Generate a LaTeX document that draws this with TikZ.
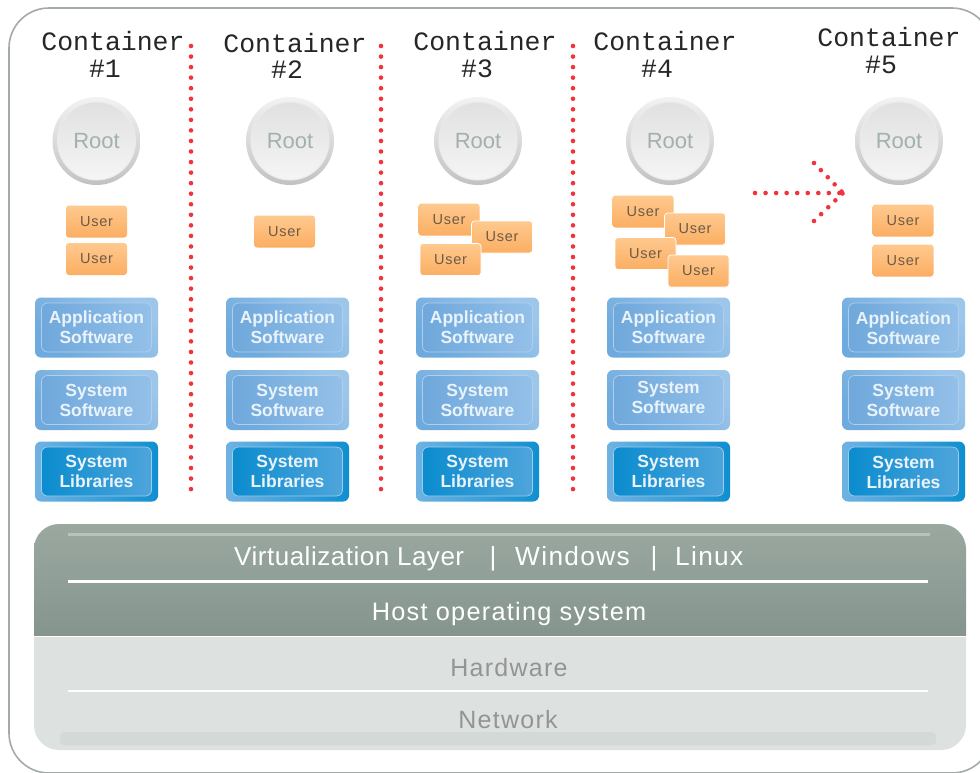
\documentclass[tikz,border=0pt]{standalone}
\usepackage{fontspec}
\setmainfont{Liberation Sans}
\newfontfamily\contfont{Liberation Mono}
\newfontfamily\spacedfont[LetterSpace=5]{Liberation Sans}
\newfontfamily\tightfont[LetterSpace=2]{Liberation Sans}
\definecolor{framec}{HTML}{A3ABA8}
\definecolor{redc}{HTML}{F0343A}
\definecolor{darkA}{HTML}{9AA8A0}
\definecolor{darkB}{HTML}{85958D}
\definecolor{lightA}{HTML}{DDE2E0}
\definecolor{lightB}{HTML}{D3D9D6}
\definecolor{rootT}{HTML}{A2B1AA}
\definecolor{userA}{HTML}{FFC98F}
\definecolor{userB}{HTML}{FBAE62}
\definecolor{userT}{HTML}{6B5C48}
\definecolor{swOut}{HTML}{6EAADD}
\definecolor{swOutB}{HTML}{9CC6EA}
\definecolor{swIn}{HTML}{6FA8DC}
\definecolor{swInB}{HTML}{94C0E8}
\definecolor{libOut}{HTML}{0F8FD0}
\definecolor{libOutB}{HTML}{6FB2E2}
\definecolor{libIn}{HTML}{0A8CCE}
\definecolor{libInB}{HTML}{4FA5DC}
\definecolor{boxT}{HTML}{EAF3FA}
\usetikzlibrary{calc}
\tikzset{
  x=1pt,y=-1pt,
  contlabel/.style={font=\contfont\fontsize{26.5}{28}\selectfont,text=black!85,inner sep=0pt},
  rootdisc/.style={circle,minimum size=78pt,inner sep=0pt,top color=black!12,bottom color=black!4,
    draw=white!92!black,line width=1pt,text=rootT,font=\fontsize{22}{24}\selectfont},
  rootring/.style={circle,minimum size=88pt,inner sep=0pt,top color=black!5,bottom color=black!24},
  userbox/.style={rounded corners=3pt,minimum width=61pt,minimum height=32pt,inner sep=0pt,
    top color=userA,bottom color=userB,text=userT,font=\spacedfont\fontsize{14.5}{16}\selectfont},
  useredge/.style={userbox,draw=white,line width=.7pt},
  swouter/.style={rounded corners=6pt,minimum width=123pt,minimum height=60pt,inner sep=0pt,
    left color=swOut,right color=swOutB,shading angle=135},
  swinner/.style={rounded corners=6pt,minimum width=110pt,minimum height=49pt,inner sep=0pt,
    left color=swIn,right color=swInB,shading angle=90,draw=white!45!swIn,line width=.7pt},
  libouter/.style={swouter,left color=libOutB,right color=libOut},
  libinner/.style={swinner,left color=libIn,right color=libInB,draw=white!45!libInB},
  stacktext/.style={align=center,text=boxT,inner sep=0pt,font=\bfseries\fontsize{17.5}{20}\selectfont},
  reddots/.style={draw=redc,line width=4.6pt,line cap=round,dash pattern=on 0pt off 10.55pt},
  virttext/.style={text=white,anchor=base west,font=\tightfont\fontsize{26}{28}\selectfont,inner sep=0pt},
  darktext/.style={text=white,anchor=base west,font=\spacedfont\fontsize{26.3}{28}\selectfont,inner sep=0pt},
  hosttext/.style={text=white,anchor=base,font=\spacedfont\fontsize{25.3}{28}\selectfont,inner sep=0pt},
  lighttext/.style={text=black!42,anchor=base,font=\spacedfont\fontsize{25}{28}\selectfont,inner sep=0pt},
}
\newcommand\contlab[5]{%
  \node[contlabel] (c#1) at (#2,#3) {Container};
  \node[contlabel] (n#1) at (#4,#5) {\##1};}
\newcommand\rootat[2]{%
  \node[rootring] (rr#1) at (#2,141) {};
  \node[rootdisc] (r#1) at (#2,141) {Root};}
\newcommand\useat[4][userbox]{\node[#1] (u#2) at (#3,#4) {User};}
\newcommand\stack[4]{% id, x, text shift of system software, text shift of libraries/app
  \node[swouter] (ao#1) at (#2,327.5) {};
  \node[swinner] (a#1) at (#2,327.5) {};
  \node[stacktext] (at#1) at ($(a#1.center)+(0,#4)$) {Application\\Software};
  \node[swouter] (so#1) at (#2,400) {};
  \node[swinner] (s#1) at (#2,400) {};
  \node[stacktext] (st#1) at ($(s#1.center)+(0,#3)$) {System\\Software};
  \node[libouter] (lo#1) at (#2,471.5) {};
  \node[libinner] (l#1) at (#2,471.5) {};
  \node[stacktext] (lt#1) at ($(l#1.center)+(0,#4)$) {System\\Libraries};}
\begin{document}
\begin{tikzpicture}
\useasboundingbox (0,0) rectangle (980,772);
\fill[white] (0,0) rectangle (980,772);
% outer frame
\draw[framec,line width=1.6pt,rounded corners=40pt] (9,8) rectangle (992,773);
% base panel
\path[top color=darkA,bottom color=darkB,rounded corners=25pt] (34,636) -- (34,524) -- (966,524) -- (966,636);
\path[fill=lightA,rounded corners=25pt] (34,637) -- (34,750) -- (966,750) -- (966,637);
\draw[white,line width=1.2pt] (34,636.5) -- (966,636.5);
\draw[darkA!70!white,line width=3pt] (68,534) -- (930,534);
\draw[white,line width=2.6pt] (68,581.5) -- (928,581.5);
\draw[white!96!lightA,line width=2pt] (68,690.5) -- (928,690.5);
\fill[lightB,rounded corners=4pt] (60,732) rectangle (936,745);
\node[virttext] (virt) at (234,565) {Virtualization Layer};
\node[darktext,anchor=base] (bar1) at (493,565) {|};
\node[darktext] (win) at (515,565) {Windows};
\node[darktext,anchor=base] (bar2) at (654,565) {|};
\node[darktext] (lin) at (675,565) {Linux};
\node[hosttext] (host) at (509,620) {Host operating system};
\node[lighttext] (hw) at (509,676) {Hardware};
\node[lighttext] (net) at (508,728) {Network};
% separators
\coordinate (sa1) at (191,46); \coordinate (sa2) at (191,499);
\coordinate (sb1) at (381,46); \coordinate (sb2) at (381,499);
\coordinate (sc1) at (573,46); \coordinate (sc2) at (573,499);
\draw[reddots] (sa1) -- (sa2);
\draw[reddots] (sb1) -- (sb2);
\draw[reddots] (sc1) -- (sc2);
% dotted arrow
\coordinate (ar1) at (755,193); \coordinate (ar2) at (843,193);
\coordinate (ah1) at (814,163); \coordinate (ah2) at (814,221);
\draw[reddots] (ar1) -- (ar2);
\draw[reddots,dash pattern=on 0pt off 9.9pt] (ah1) -- (ar2);
\draw[reddots,dash pattern=on 0pt off 9.9pt] (ah2) -- (ar2);
% titles
\contlab{1}{113}{41}{105}{69}
\contlab{2}{295}{43}{287}{70}
\contlab{3}{485}{41}{477}{69}
\contlab{4}{665}{41}{657}{69}
\contlab{5}{889}{37}{881}{65}
% roots
\rootat{1}{96.5}
\rootat{2}{290}
\rootat{3}{478}
\rootat{4}{670}
\rootat{5}{899}
% users
\useat{a}{96.5}{221.5}
\useat{b}{96.5}{259}
\useat{c}{284.5}{231.5}
\useat{d}{449}{219.5}
\useat[useredge]{e}{502}{237}
\useat[useredge]{f}{450.5}{259.5}
\useat{g}{643}{211.5}
\useat[useredge]{h}{695}{229}
\useat[useredge]{i}{645.5}{253.5}
\useat[useredge]{j}{698.5}{271}
\useat{k}{903}{220.5}
\useat{l}{903}{260.5}
% stacks
\stack{1}{96.5}{0}{0}
\stack{2}{287.5}{0}{0}
\stack{3}{477.5}{0}{0}
\stack{4}{668.5}{-3}{0}
\stack{5}{903.5}{0}{1}
\end{tikzpicture}
\end{document}
